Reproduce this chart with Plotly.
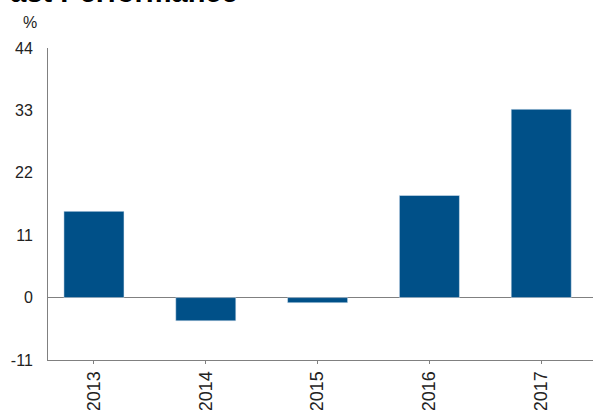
import plotly.graph_objects as go

years = ["2013", "2014", "2015", "2016", "2017"]
returns = [15.2, -4.1, -0.9, 18.0, 33.2]
y_ticks = [-11, 0, 11, 22, 33, 44]

W, H = 593, 410
ML, MR, MT, MB = 48, 0, 48, 50
pw = W - ML - MR
ph = H - MT - MB

fig = go.Figure(go.Bar(
    x=years, y=returns, marker_color="#005088", width=0.537,
    hoverinfo="x+y",
))

fig.update_layout(
    width=W, height=H,
    margin=dict(l=ML, r=MR, t=MT, b=MB, pad=0, autoexpand=False),
    plot_bgcolor="white", paper_bgcolor="white",
    font=dict(family="Liberation Sans, Arial, sans-serif", size=16, color="#222"),
    showlegend=False,
    xaxis=dict(
        type="category", range=[-0.411, 4.463], automargin=False,
        showline=True, linecolor="#808080", linewidth=1,
        ticks="outside", ticklen=3, tickcolor="#808080",
        tickangle=-90, showgrid=False, zeroline=False,
        ticklabelstandoff=0, tickfont=dict(size=18),
    ),
    yaxis=dict(
        range=[-11, 44], tickvals=y_ticks, ticktext=[str(v) for v in y_ticks],
        automargin=False,
        showline=True, linecolor="#808080", linewidth=1,
        ticks="", showgrid=False,
        zeroline=True, zerolinecolor="#808080", zerolinewidth=1,
        ticklabelstandoff=11,
    ),
    annotations=[
        dict(text="<b>Past Performance</b>", xref="paper", yref="paper",
             x=(240 - ML) / pw, y=1 + (MT - 10) / ph, xanchor="right", yanchor="bottom",
             showarrow=False, font=dict(size=29, color="#000")),
        dict(text="%", xref="paper", yref="paper",
             x=(30 - ML) / pw, y=1 + (MT - 22) / ph, xanchor="center", yanchor="middle",
             showarrow=False, font=dict(size=16, color="#222")),
    ],
)

fig.write_html("out.html", config={"displayModeBar": False},
               post_script="document.body.style.margin='0';document.body.style.overflow='hidden';")
